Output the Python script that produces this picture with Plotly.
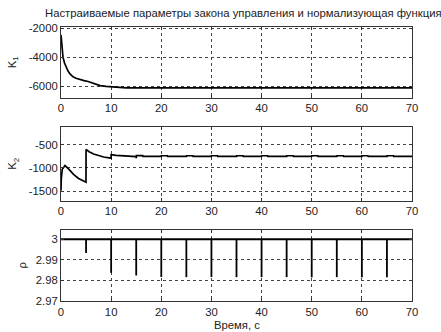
import plotly.graph_objects as go

# Time axis ticks (seconds)
x_ticks = [0, 10, 20, 30, 40, 50, 60, 70]

# K1: adaptive gain 1
k1_t = [0, 0.15, 0.4, 0.7, 1.0, 1.4, 1.8, 2.4, 3.0, 3.8, 4.6, 5.4, 6.2, 7.0,
        7.8, 9.0, 10.5, 12.0, 13.0, 70]
k1_v = [-2450, -3300, -4000, -4400, -4650, -4950, -5150, -5350, -5450, -5550,
        -5620, -5680, -5780, -5880, -5960, -6020, -6060, -6100, -6120, -6120]

# K2: adaptive gain 2
k2_t = [0, 0.05, 0.25, 0.8, 1.5, 2.5, 3.5, 4.5, 4.98, 5.0, 5.6, 6.5, 7.5, 8.5,
        9.98, 10.0, 11.0, 12.5, 14.98,
        15.0, 15.05, 16.3, 16.35, 19.98,
        20.0, 21.2, 21.25, 24.98,
        25.0, 25.05, 26.3, 26.35, 29.98,
        30.0, 31.2, 31.25, 34.98,
        35.0, 35.05, 36.3, 36.35, 39.98,
        40.0, 41.2, 41.25, 44.98,
        45.0, 45.05, 46.3, 46.35, 49.98,
        50.0, 51.2, 51.25, 54.98,
        55.0, 55.05, 56.3, 56.35, 59.98,
        60.0, 61.2, 61.25, 64.98,
        65.0, 65.05, 66.3, 66.35, 70]
k2_v = [-1490, -1250, -1030, -950, -1020, -1140, -1230, -1290, -1310, -600,
        -650, -700, -740, -765, -790, -715, -730, -745, -755,
        -790, -735, -735, -750, -750,
        -737, -737, -750, -750,
        -768, -737, -737, -750, -750,
        -737, -737, -750, -750,
        -768, -737, -737, -750, -750,
        -737, -737, -750, -750,
        -768, -737, -737, -750, -750,
        -737, -737, -750, -750,
        -768, -737, -737, -750, -750,
        -737, -737, -750, -750,
        -768, -737, -737, -750, -750]

# rho: normalizing function, brief dips at switching instants
rho_base_t = [0, 70]
rho_base_v = [3.0, 3.0]
spike_t = [5, 10, 15, 20, 25, 30, 35, 40, 45, 50, 55, 60, 65]
spike_min = [2.9933, 2.9837, 2.9824, 2.9817, 2.9816, 2.9817, 2.9816, 2.9816,
             2.9816, 2.9815, 2.9816, 2.9815, 2.9816]

k1_ticks = [-6000, -4000, -2000]
k2_ticks = [-1500, -1000, -500]
rho_ticks = [2.97, 2.98, 2.99, 3.0]

title_text = "Настраиваемые параметры закона управления и нормализующая функция"
x_title = "Время, с"

FONT = "Liberation Sans, Arial, sans-serif"
LINE = "black"
TXT = "#222"

fig = go.Figure()
fig.add_trace(go.Scatter(x=k1_t, y=k1_v, mode="lines",
                         line=dict(color=LINE, width=1.7),
                         xaxis="x", yaxis="y", showlegend=False))
fig.add_trace(go.Scatter(x=k2_t, y=k2_v, mode="lines",
                         line=dict(color=LINE, width=1.7),
                         xaxis="x2", yaxis="y2", showlegend=False))
fig.add_trace(go.Scatter(x=rho_base_t, y=rho_base_v, mode="lines",
                         line=dict(color=LINE, width=2),
                         xaxis="x3", yaxis="y3", showlegend=False))
sx, sy = [], []
for t, m in zip(spike_t, spike_min):
    sx += [t, t, None]
    sy += [3.0, m, None]
fig.add_trace(go.Scatter(x=sx, y=sy, mode="lines",
                         line=dict(color=LINE, width=1.8),
                         xaxis="x3", yaxis="y3", showlegend=False))


def xax(anchor):
    return dict(domain=[0, 1], anchor=anchor, range=[0, 70],
                tickvals=x_ticks, ticktext=[str(v) for v in x_ticks],
                showgrid=True, gridcolor="#444", griddash="dot", gridwidth=1,
                showline=True, linecolor="#333", linewidth=1, mirror="ticks",
                ticks="inside", ticklen=3, tickcolor="#333",
                zeroline=False, tickfont=dict(size=11.3, color=TXT))


def yax(anchor, domain, rng, vals, texts):
    return dict(domain=domain, anchor=anchor, range=rng,
                tickvals=vals, ticktext=texts,
                showgrid=True, gridcolor="#444", griddash="dot", gridwidth=1,
                showline=True, linecolor="#333", linewidth=1, mirror="ticks",
                ticks="inside", ticklen=3, tickcolor="#333",
                zeroline=False, tickfont=dict(size=11.3, color=TXT))


fig.update_layout(
    width=441, height=332,
    margin=dict(l=61, r=29, t=27, b=31),
    paper_bgcolor="white", plot_bgcolor="white",
    font=dict(family=FONT, size=11, color=TXT),
    xaxis=xax("y"),
    xaxis2=xax("y2"),
    xaxis3=xax("y3"),
    yaxis=yax("x", [0.742, 1.0], [-6800, -1900], k1_ticks,
              [str(v) for v in k1_ticks]),
    yaxis2=yax("x2", [0.366, 0.636], [-1710, -110], k2_ticks,
               [str(v) for v in k2_ticks]),
    yaxis3=yax("x3", [0.0, 0.259], [2.97, 3.0045], rho_ticks,
               ["2.97", "2.98", "2.99", "3"]),
    annotations=[
        dict(text=title_text, x=0.5, xref="paper", xshift=7, y=1.0, yref="paper",
             yshift=14, xanchor="center", yanchor="middle", showarrow=False,
             font=dict(size=11.3, color=TXT)),
        dict(text="K<sub>1</sub>", x=0, xref="paper", xshift=-48,
             y=0.871, yref="paper", textangle=-90, showarrow=False,
             xanchor="center", yanchor="middle", font=dict(size=11.3, color=TXT)),
        dict(text="K<sub>2</sub>", x=0, xref="paper", xshift=-48,
             y=0.501, yref="paper", textangle=-90, showarrow=False,
             xanchor="center", yanchor="middle", font=dict(size=11.3, color=TXT)),
        dict(text="ρ", x=0, xref="paper", xshift=-39,
             y=0.13, yref="paper", textangle=-90, showarrow=False,
             xanchor="center", yanchor="middle", font=dict(size=11.3, color=TXT)),
        dict(text=x_title, x=0.5, xref="paper", y=0, yref="paper",
             yshift=-24, xanchor="center", yanchor="middle", showarrow=False,
             font=dict(size=11.3, color=TXT)),
    ],
)

fig.write_html("out.html")
